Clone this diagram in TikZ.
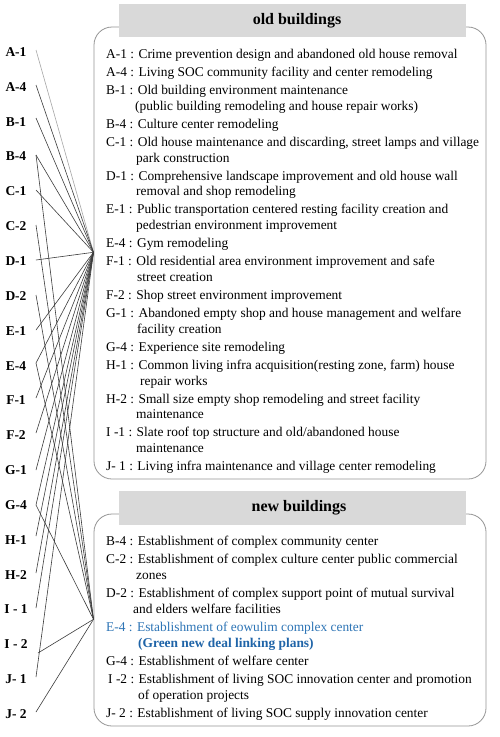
\documentclass[tikz,border=0pt]{standalone}
\usepackage{fontspec}
\setmainfont{Liberation Serif}
\definecolor{hdrgray}{RGB}{217,217,217}
\definecolor{boxgray}{RGB}{150,150,150}
\definecolor{linegray}{RGB}{60,60,60}
\definecolor{blueE}{RGB}{46,117,182}
\definecolor{blueB}{RGB}{31,100,168}
\newcommand{\mytxt}[4]{\node[txt] (#1) at (#2,#3+4.4) {#4};}
\begin{document}
\begin{tikzpicture}[x=1pt,y=-1pt,
  txt/.style={anchor=base west, inner sep=0pt, font=\fontsize{13.4}{15}\selectfont},
  lab/.style={anchor=center, inner sep=0pt, font=\bfseries\fontsize{13.5}{15}\selectfont},
  hdrtxt/.style={inner sep=0pt, font=\bfseries\fontsize{16}{18}\selectfont},
  framebox/.style={draw=boxgray, line width=0.8pt, rounded corners=18pt},
  hdrbar/.style={fill=hdrgray},
  conn/.style={draw=linegray, line width=0.6pt},
  connlight/.style={draw=gray!70, line width=0.6pt}]
\useasboundingbox (0,0) rectangle (500,737);
\fill[white] (0,0) rectangle (500,737);

% frames and headers
\draw[framebox] (94,27) rectangle (486,479);
\fill[hdrbar] (119,4) rectangle (466,37);
\node[hdrtxt] (hold) at (297,21) {old buildings};
\draw[framebox] (94,514) rectangle (486,726);
\fill[hdrbar] (119,491) rectangle (466,525);
\node[hdrtxt] (hnew) at (299,508) {new buildings};

% old buildings text
\mytxt{oA1}{106}{54}{A-1 : Crime prevention design and abandoned old house removal}
\mytxt{oA4}{106}{72}{A-4 : Living SOC community facility and center remodeling}
\mytxt{oB1}{106}{90}{B-1 : Old building environment maintenance}
\mytxt{oB1b}{135}{105.8}{(public building remodeling and house repair works)}
\mytxt{oB4}{106}{123.8}{B-4 : Culture center remodeling}
\mytxt{oC1}{106}{141.8}{C-1 : Old house maintenance and discarding, street lamps and village}
\mytxt{oC1b}{136}{157.6}{park construction}
\mytxt{oD1}{106}{175.6}{D-1 : Comprehensive landscape improvement and old house wall}
\mytxt{oD1b}{136}{191.4}{removal and shop remodeling}
\mytxt{oE1}{106}{209.4}{E-1 : Public transportation centered resting facility creation and}
\mytxt{oE1b}{136}{225.2}{pedestrian environment improvement}
\mytxt{oE4}{106}{243.2}{E-4 : Gym remodeling}
\mytxt{oF1}{106}{261.2}{F-1 : Old residential area environment improvement and safe}
\mytxt{oF1b}{137}{277}{street creation}
\mytxt{oF2}{106}{295}{F-2 : Shop street environment improvement}
\mytxt{oG1}{106}{313}{G-1 : Abandoned empty shop and house management and welfare}
\mytxt{oG1b}{137}{328.8}{facility creation}
\mytxt{oG4}{106}{346.8}{G-4 : Experience site remodeling}
\mytxt{oH1}{106}{364.8}{H-1 : Common living infra acquisition(resting zone, farm) house}
\mytxt{oH1b}{140}{380.6}{repair works}
\mytxt{oH2}{106}{398.6}{H-2 : Small size empty shop remodeling and street facility}
\mytxt{oH2b}{136}{414.4}{maintenance}
\mytxt{oI1}{106}{432.4}{I -1 : Slate roof top structure and old/abandoned house}
\mytxt{oI1b}{136}{448.2}{maintenance}
\mytxt{oJ1}{106}{466.2}{J- 1 : Living infra maintenance and village center remodeling}

% new buildings text
\mytxt{nB4}{106}{541.5}{B-4 : Establishment of complex community center}
\mytxt{nC2}{106}{559.5}{C-2 : Establishment of complex culture center public commercial}
\mytxt{nC2b}{136}{575.3}{zones}
\mytxt{nD2}{106}{593.3}{D-2 : Establishment of complex support point of mutual survival}
\mytxt{nD2b}{133}{609.1}{and elders welfare facilities}
\mytxt{nE4}{106}{627.1}{\color{blueE}E-4 : Establishment of eowulim complex center}
\mytxt{nE4b}{138}{642.9}{\color{blueB}\bfseries (Green new deal linking plans)}
\mytxt{nG4}{106}{660.9}{G-4 : Establishment of welfare center}
\mytxt{nI2}{108}{678.9}{I -2 : Establishment of living SOC innovation center and promotion}
\mytxt{nI2b}{138}{694.7}{of operation projects}
\mytxt{nJ2}{106}{712.7}{J- 2 : Establishment of living SOC supply innovation center}

% left labels
\node[lab] (A1) at (16,52) {A-1};
\node[lab] (A4) at (16,86.8) {A-4};
\node[lab] (B1) at (16,121.7) {B-1};
\node[lab] (B4) at (16,156.5) {B-4};
\node[lab] (C1) at (16,191.4) {C-1};
\node[lab] (C2) at (16,226.2) {C-2};
\node[lab] (D1) at (16,261) {D-1};
\node[lab] (D2) at (16,295.9) {D-2};
\node[lab] (E1) at (16,330.7) {E-1};
\node[lab] (E4) at (16,365.6) {E-4};
\node[lab] (F1) at (16,400.4) {F-1};
\node[lab] (F2) at (16,435.2) {F-2};
\node[lab] (G1) at (16,470.1) {G-1};
\node[lab] (G4) at (16,504.9) {G-4};
\node[lab] (H1) at (16,539.8) {H-1};
\node[lab] (H2) at (16,574.6) {H-2};
\node[lab] (I1) at (16,609.4) {I - 1};
\node[lab] (I2) at (16,644.3) {I - 2};
\node[lab] (J1) at (16,679.1) {J- 1};
\node[lab] (J2) at (16,714) {J- 2};

% convergence points
\coordinate (O) at (93.5,252.3);
\coordinate (N) at (93.5,619.3);

% line start points
\coordinate (sA1) at (36,50);
\coordinate (sA4) at (36,85);
\coordinate (sB1) at (36,118);
\coordinate (sB4) at (36,155);
\coordinate (sC1) at (36,190);
\coordinate (sC2) at (36,225);
\coordinate (sD1) at (36,260);
\coordinate (sD2) at (36,295);
\coordinate (sE1) at (36,330);
\coordinate (sE4) at (36,363);
\coordinate (sF1) at (36,398);
\coordinate (sF2) at (36,433);
\coordinate (sG1) at (36,470);
\coordinate (sG4) at (36,505);
\coordinate (sH1) at (36,536);
\coordinate (sH2) at (36,573);
\coordinate (sI1) at (36,608);
\coordinate (sI2) at (38,653);
\coordinate (sJ1) at (36,677);
\coordinate (sJ2) at (36,712);

% connectors to old buildings
\draw[connlight] (sA1) -- (O);
\foreach \s in {sA4,sB1,sB4,sC1,sD1,sE1,sE4,sF1,sF2,sG1,sG4,sH1,sH2,sI1,sJ1}
  \draw[conn] (\s) -- (O);
% connectors to new buildings
\foreach \s in {sB4,sC2,sD2,sE4,sG4,sI2,sJ2}
  \draw[conn] (\s) -- (N);
\end{tikzpicture}
\end{document}
